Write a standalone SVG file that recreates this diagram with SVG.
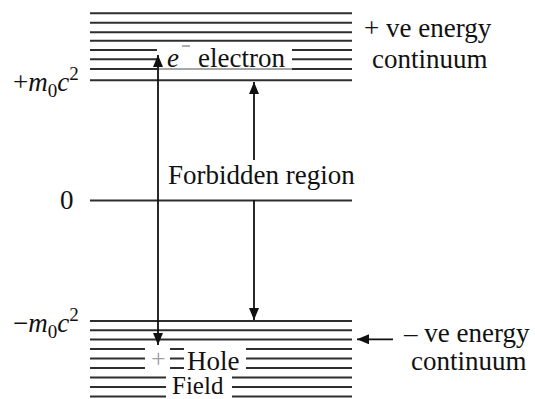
<svg xmlns="http://www.w3.org/2000/svg" width="535" height="399" viewBox="0 0 535 399">
<style>
.lv{stroke:#2e2e2e;stroke-width:2;fill:none}
.ar{stroke:#111;stroke-width:1.8;fill:none}
text{font-family:"Liberation Serif","Times New Roman",serif;font-size:27px;fill:#111}
.it{font-style:italic}
</style>
<defs>
<marker id="ah" markerUnits="userSpaceOnUse" markerWidth="12" markerHeight="10" refX="12" refY="5" orient="auto-start-reverse">
<path d="M0,0 L12,5 L0,10 z" fill="#111"/>
</marker>
</defs>
<rect width="535" height="399" fill="#fff"/>
<g id="pos-continuum">
<line class="lv" x1="90" y1="13.3" x2="352" y2="13.3"/>
<line class="lv" x1="90" y1="22.7" x2="352" y2="22.7"/>
<line class="lv" x1="90" y1="32.2" x2="352" y2="32.2"/>
<line class="lv" x1="90" y1="40.7" x2="352" y2="40.7"/>
<line class="lv" x1="90" y1="50" x2="157" y2="50"/>
<line class="lv" x1="292" y1="50" x2="352" y2="50"/>
<line class="lv" x1="90" y1="59.3" x2="157" y2="59.3"/>
<line class="lv" x1="292" y1="59.3" x2="352" y2="59.3"/>
<line class="lv" x1="90" y1="69" x2="157" y2="69"/>
<line x1="157" y1="69" x2="292" y2="69" stroke="#888" stroke-width="1.5"/>
<line class="lv" x1="292" y1="69" x2="352" y2="69"/>
<line class="lv" x1="90" y1="80.3" x2="352" y2="80.3"/>
</g>
<g id="zero-level">
<line class="lv" x1="90" y1="200.5" x2="352" y2="200.5"/>
</g>
<g id="neg-continuum">
<line class="lv" x1="90" y1="321" x2="352" y2="321"/>
<line class="lv" x1="90" y1="330.3" x2="352" y2="330.3"/>
<line class="lv" x1="90" y1="339.5" x2="352" y2="339.5"/>
<line class="lv" x1="90" y1="349" x2="145" y2="349"/>
<line class="lv" x1="170" y1="349" x2="184" y2="349"/>
<line class="lv" x1="246" y1="349" x2="352" y2="349"/>
<line class="lv" x1="90" y1="358.5" x2="145" y2="358.5"/>
<line class="lv" x1="170" y1="358.5" x2="184" y2="358.5"/>
<line class="lv" x1="246" y1="358.5" x2="352" y2="358.5"/>
<line class="lv" x1="90" y1="368" x2="145" y2="368"/>
<line class="lv" x1="170" y1="368" x2="184" y2="368"/>
<line class="lv" x1="246" y1="368" x2="352" y2="368"/>
<line class="lv" x1="90" y1="377.5" x2="166" y2="377.5"/>
<line class="lv" x1="232" y1="377.5" x2="352" y2="377.5"/>
<line class="lv" x1="90" y1="387" x2="166" y2="387"/>
<line class="lv" x1="232" y1="387" x2="352" y2="387"/>
<line class="lv" x1="90" y1="396.5" x2="166" y2="396.5"/>
<line class="lv" x1="232" y1="396.5" x2="352" y2="396.5"/>
</g>
<g id="connectors">
<line class="ar" x1="158" y1="55" x2="158" y2="345" marker-start="url(#ah)" marker-end="url(#ah)"/>
<line class="ar" x1="254" y1="160" x2="254" y2="82" marker-end="url(#ah)"/>
<line class="ar" x1="254" y1="200" x2="254" y2="320" marker-end="url(#ah)"/>
<line class="ar" x1="393" y1="339.3" x2="357" y2="339.3" marker-end="url(#ah)"/>
</g>
<g id="label-plus-m0c2">
<text x="13" y="90.5">+<tspan class="it">m</tspan><tspan font-size="19" dy="6">0</tspan><tspan class="it" dy="-6">c</tspan><tspan font-size="19" dy="-11">2</tspan></text>
</g>
<g id="label-zero">
<text x="60" y="209">0</text>
</g>
<g id="label-minus-m0c2">
<text x="13" y="332">−<tspan class="it">m</tspan><tspan font-size="19" dy="6">0</tspan><tspan class="it" dy="-6">c</tspan><tspan font-size="19" dy="-11">2</tspan></text>
</g>
<g id="label-electron">
<text x="167" y="66.7"><tspan class="it">e</tspan></text>
<line x1="182" y1="46" x2="190" y2="46" stroke="#777" stroke-width="1.2"/>
<text x="198" y="66.7">electron</text>
</g>
<g id="label-forbidden">
<text x="168" y="183.5">Forbidden region</text>
</g>
<g id="label-hole">
<text x="151" y="367" style="fill:#a0a0a0;font-size:26px">+</text>
<text x="187" y="370">Hole</text>
</g>
<g id="label-field">
<text x="172" y="394" style="font-size:25px">Field</text>
</g>
<g id="label-pos-energy">
<text x="364" y="36.7">+ ve energy</text>
<text x="372" y="68.3">continuum</text>
</g>
<g id="label-neg-energy">
<text x="404" y="341.7">– ve energy</text>
<text x="411" y="370">continuum</text>
</g>
</svg>
